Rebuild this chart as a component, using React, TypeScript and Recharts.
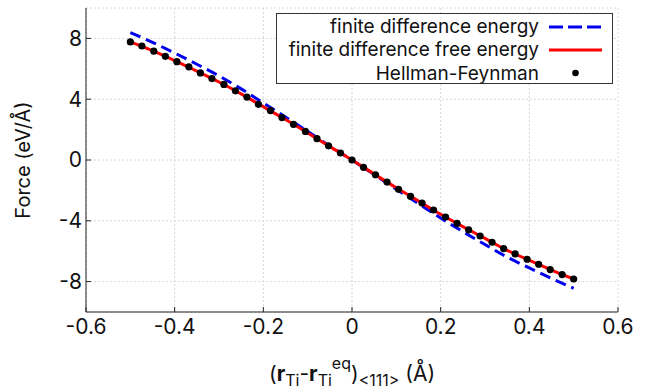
import {
  ComposedChart,
  Line,
  Scatter,
  XAxis,
  YAxis,
  CartesianGrid,
  Legend,
} from "recharts";

const font = "Inter, 'Liberation Sans', Arial, sans-serif";

// Hellman-Feynman forces (dots)
const hfX = [
  -0.5, -0.474, -0.447, -0.421, -0.395, -0.368, -0.342, -0.316, -0.289, -0.263,
  -0.237, -0.211, -0.184, -0.158, -0.132, -0.105, -0.079, -0.053, -0.026, 0,
  0.026, 0.053, 0.079, 0.105, 0.132, 0.158, 0.184, 0.211, 0.237, 0.263, 0.289,
  0.316, 0.342, 0.368, 0.395, 0.421, 0.447, 0.474, 0.5,
];
const hfForce = [
  7.77, 7.5, 7.16, 6.82, 6.47, 6.13, 5.73, 5.36, 4.97, 4.55, 4.14, 3.66, 3.25,
  2.79, 2.35, 1.88, 1.4, 0.93, 0.46, 0, -0.48, -0.97, -1.45, -1.93, -2.39,
  -2.83, -3.29, -3.75, -4.17, -4.59, -5.0, -5.41, -5.83, -6.18, -6.53, -6.86,
  -7.21, -7.54, -7.83,
];

// finite difference curves
const fdX = [
  -0.5, -0.45, -0.4, -0.35, -0.3, -0.25, -0.2, -0.15, -0.1, -0.05, 0, 0.05,
  0.1, 0.15, 0.2, 0.25, 0.3, 0.35, 0.4, 0.45, 0.5,
];
const fdEnergy = [
  8.38, 7.74, 7.04, 6.3, 5.53, 4.68, 3.75, 2.83, 1.88, 0.92, 0, -0.96, -1.93,
  -2.87, -3.82, -4.71, -5.56, -6.39, -7.1, -7.79, -8.44,
];
const fdFreeEnergy = [
  7.77, 7.19, 6.54, 5.85, 5.13, 4.35, 3.5, 2.66, 1.78, 0.88, 0, -0.92, -1.83,
  -2.7, -3.57, -4.38, -5.16, -5.94, -6.6, -7.24, -7.83,
];

const xTicks = [-0.6, -0.4, -0.2, 0, 0.2, 0.4, 0.6];
const yTicks = [-8, -4, 0, 4, 8];

const hfData = hfX.map((x, i) => ({ x, y: hfForce[i] }));
const energyData = fdX.map((x, i) => ({ x, y: fdEnergy[i] }));
const freeData = fdX.map((x, i) => ({ x, y: fdFreeEnergy[i] }));

const tickStyle = { fontFamily: font, fontSize: 21, fill: "#111" };

function XLabel(props: any) {
  const vb = props.viewBox || {};
  const cx = vb.x + vb.width / 2;
  return (
    <text
      x={cx}
      y={381}
      textAnchor="middle"
      fontFamily={font}
      fontSize={21}
      fill="#111"
    >
      <tspan>(</tspan>
      <tspan fontWeight="bold">r</tspan>
      <tspan fontSize={16} dy={5}>Ti</tspan>
      <tspan dy={-5}>-</tspan>
      <tspan fontWeight="bold">r</tspan>
      <tspan fontSize={16} dy={5}>Ti</tspan>
      <tspan fontSize={16} dy={-17}>eq</tspan>
      <tspan dy={12}>)</tspan>
      <tspan fontSize={16} dy={5}>{"<111>"}</tspan>
      <tspan dy={-5}> (Å)</tspan>
    </text>
  );
}

function YLabel() {
  return (
    <text
      x={23}
      y={160}
      transform="rotate(-90, 23, 160)"
      textAnchor="middle"
      dominantBaseline="central"
      fontFamily={font}
      fontSize={20}
      fill="#111"
    >
      Force (eV/Å)
    </text>
  );
}

const legendRows = [
  { label: "finite difference energy", kind: "dash" },
  { label: "finite difference free energy", kind: "line" },
  { label: "Hellman-Feynman", kind: "dot" },
];

function renderLegend() {
  return (
    <div
      style={{
        border: "1px solid #333",
        background: "#fff",
        width: 335,
        height: 68,
        paddingTop: 1,
        fontFamily: font,
        fontSize: 19,
        color: "#111",
      }}
    >
      {legendRows.map((r) => (
        <div
          key={r.label}
          style={{
            display: "flex",
            alignItems: "center",
            justifyContent: "flex-end",
            height: 23.3,
            lineHeight: "23px",
          }}
        >
          <span>{r.label}</span>
          <svg width={53} height={10} style={{ marginLeft: 10, marginRight: 10 }}>
            {r.kind === "dash" && (
              <line x1={0} y1={5} x2={53} y2={5} stroke="#0000ee" strokeWidth={3} strokeDasharray="14 5" />
            )}
            {r.kind === "line" && (
              <line x1={0} y1={5} x2={53} y2={5} stroke="#ff0000" strokeWidth={3} />
            )}
            {r.kind === "dot" && <circle cx={26.5} cy={5} r={3.3} fill="#000" />}
          </svg>
        </div>
      ))}
    </div>
  );
}

export default function App() {
  return (
    <div style={{ position: "absolute", left: 0, top: 0, background: "#fff" }}>
      <ComposedChart
        width={651}
        height={389}
        margin={{ top: 8, right: 33, left: 0, bottom: 0 }}
      >
        <CartesianGrid stroke="#d8d8d8" strokeDasharray="2 2" />
        <XAxis
          dataKey="x"
          type="number"
          domain={[-0.6, 0.6]}
          ticks={xTicks}
          height={77}
          tick={tickStyle}
          tickSize={-5}
          tickMargin={12}
          stroke="#222"
          label={<XLabel />}
          allowDataOverflow
        />
        <XAxis
          xAxisId="top"
          orientation="top"
          dataKey="x"
          type="number"
          domain={[-0.6, 0.6]}
          ticks={xTicks}
          height={0}
          tick={false}
          tickSize={-5}
          stroke="#222"
        />
        <YAxis
          type="number"
          domain={[-10, 10]}
          ticks={yTicks}
          width={86}
          tick={tickStyle}
          tickSize={-5}
          tickMargin={9}
          stroke="#222"
          label={<YLabel />}
          allowDataOverflow
        />
        <YAxis
          yAxisId="right"
          orientation="right"
          type="number"
          domain={[-10, 10]}
          ticks={yTicks}
          width={0}
          tick={false}
          tickSize={-5}
          stroke="#222"
        />
        <Legend
          layout="vertical"
          align="center"
          verticalAlign="middle"
          content={renderLegend}
          wrapperStyle={{ left: 276, top: 13 }}
        />
        <Line
          data={energyData}
          dataKey="y"
          type="monotone"
          stroke="#0000ee"
          strokeWidth={3}
          strokeDasharray="11 6"
          dot={false}
          isAnimationActive={false}
        />
        <Line
          data={freeData}
          dataKey="y"
          type="monotone"
          stroke="#ff0000"
          strokeWidth={3}
          dot={false}
          isAnimationActive={false}
        />
        <Scatter
          data={hfData}
          dataKey="y"
          fill="#000"
          shape={(p: any) => <circle cx={p.cx} cy={p.cy} r={3.6} fill="#000" />}
          isAnimationActive={false}
        />
      </ComposedChart>
    </div>
  );
}
